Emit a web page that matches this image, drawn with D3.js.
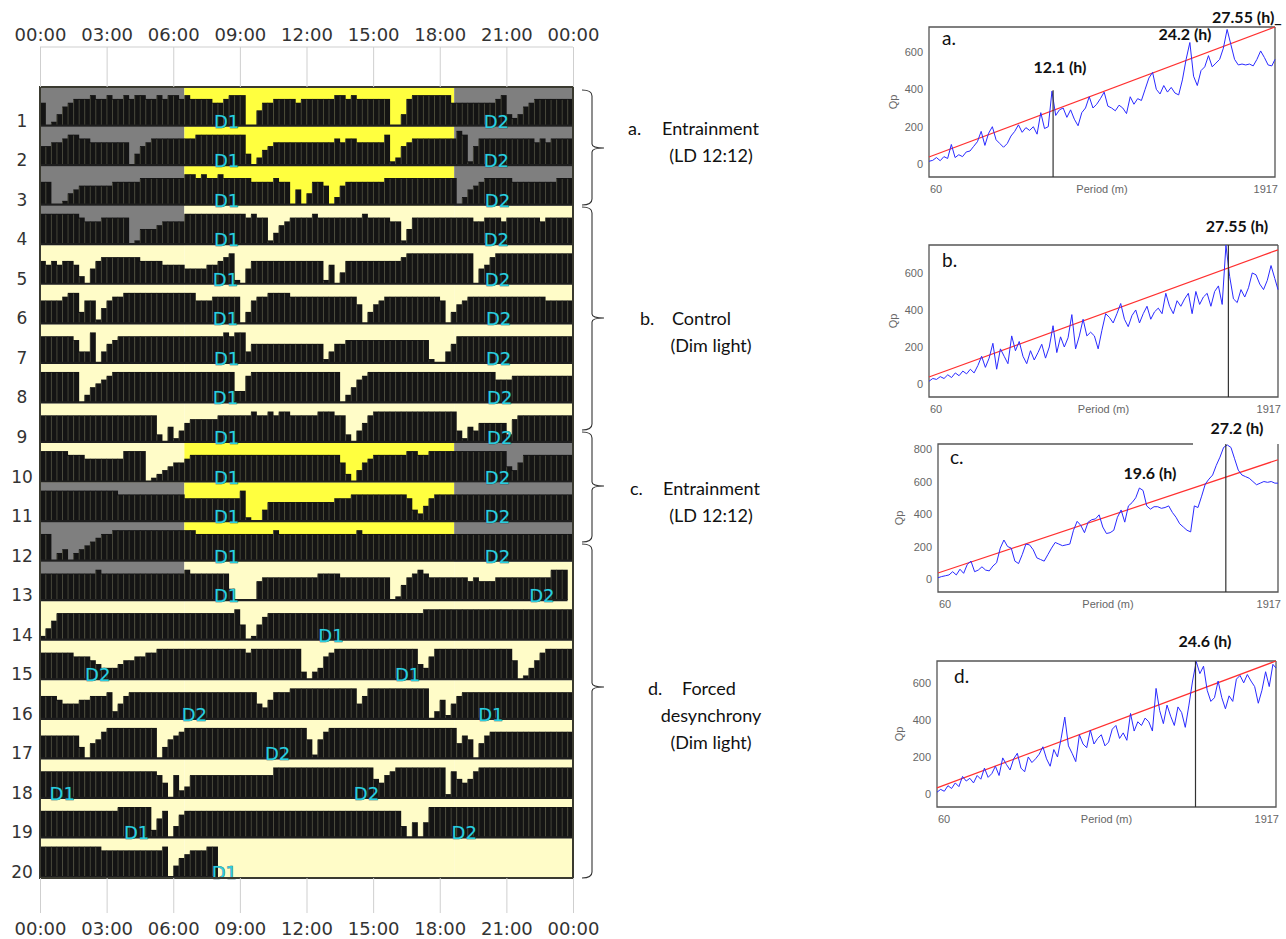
<!DOCTYPE html>
<html>
<head>
<meta charset="utf-8">
<script src="https://cdn.jsdelivr.net/npm/d3@7"></script>
<style>
  body { margin: 0; background: #fff; }
  svg { display: block; }
</style>
</head>
<body>
<svg id="fig" width="1286" height="939"></svg>
<script>
// ---------------- data ----------------
const tickHours = [0, 3, 6, 9, 12, 15, 18, 21, 24]
const tickLabels = ["00:00", "03:00", "06:00", "09:00", "12:00", "15:00", "18:00", "21:00", "00:00"]
const rowNames = ["1","2","3","4","5","6","7","8","9","10","11","12","13","14","15","16","17","18","19","20"]

const lightsOn = 6.5
const lightsOff = 18.65
const morningBg = ["dark","dark","dark","dark","dim","dim","dim","dim","dim","dim","dark","dark","dark","dim","dim","dim","dim","dim","dim","dim"]
const dayBg     = ["light","light","light","dim","dim","dim","dim","dim","dim","light","light","light","dim","dim","dim","dim","dim","dim","dim","dim"]
const eveningBg = ["dark","dark","dark","dim","dim","dim","dim","dim","dim","dark","dark","dark","dim","dim","dim","dim","dim","dim","dim","dim"]

// activity per 15 min bin (0-9, "." = no recording), one group of 4 per hour
const activity = [
  "6013 5677 7877 8778 7887 7878 8787 7776 6788 8004 6677 7767 7777 7887 8777 7770 0378 8888 8866 6666 6678 3235 6777 7777",
  "5566 7887 7666 6666 0356 7777 7777 8888 8888 8302 4566 6666 6666 6767 7666 6681 2567 7777 7779 8157 7777 7777 7676 7777",
  "6600 1345 5555 5666 6677 7777 7788 7877 8777 7766 6676 6040 3665 0256 6666 6677 7777 7777 7770 2456 7777 7666 6666 6777",
  "8888 8887 6667 7777 0144 4566 6688 8888 8888 8787 7135 6777 7877 7777 7787 7776 6147 7777 7777 7766 7776 7777 7767 7777",
  "6565 6652 0467 7777 7766 6655 5544 4455 6781 0466 6666 6666 6661 5036 6666 6666 6788 8888 8888 8804 5788 8888 8888 8888",
  "6666 7883 6614 6778 8888 8888 8888 6667 7777 0367 7888 8777 7777 7777 7503 5677 7777 7777 6035 6777 7777 7777 7776 6666",
  "7777 7763 3803 5677 7777 7777 7777 7777 7878 8355 5555 5555 5551 3556 6666 6666 6666 6610 0357 7777 7777 7777 7777 7777",
  "8888 8880 2456 7888 8888 8888 8888 8888 8883 3788 8888 8888 8888 8802 4678 8888 8888 8888 8888 8888 8866 6777 7777 7777",
  "7777 7777 7777 7777 7777 7204 1356 6666 7777 7787 7878 8777 7788 8772 0357 8888 8888 8888 8883 1435 5555 2677 7777 7777",
  "8888 8777 6666 6668 8880 1234 5567 7777 7777 7777 7777 7777 7777 7752 0356 7777 7788 7788 8888 8888 8888 4357 7777 7777",
  "8888 8888 8888 8877 7777 7777 7766 6666 6666 8100 3555 5555 5555 5666 7777 7777 7763 2467 7777 7777 7777 7777 7777 7777",
  "7702 3023 4567 7888 8888 8888 8888 7777 7777 7777 7787 7777 7777 7777 7877 7777 7777 7777 7777 7777 7777 7777 7777 7777",
  "7777 7777 7787 7777 7777 7777 7787 7777 7730 0005 6666 6666 6677 7766 6666 6660 1467 8766 6666 6565 5566 6666 6666 888.",
  "1357 7777 7777 7777 7777 7777 7777 7777 7778 4014 6777 7777 7777 7777 7777 7777 7777 7888 8888 8888 8888 8888 8888 8888",
  "7777 7766 6543 3345 5667 7888 8888 8888 8888 8788 8888 8882 0236 7888 8888 8888 8888 4368 8888 8888 8888 8501 3578 8888",
  "6665 4445 5666 7246 7777 7777 7777 7777 7777 7774 3577 7888 8888 8888 8468 8888 8888 8802 5146 7777 7777 7777 7777 7777",
  "6666 6663 0457 8888 8888 8035 6788 8888 8888 8888 8888 8888 5157 8888 8888 8888 8888 8888 8884 6504 6777 7777 7777 7777",
  "7777 7777 7777 7777 7777 7640 6236 6666 6666 6666 6688 8888 8888 8888 8888 5467 8888 8888 8175 4578 8888 8888 8888 8888",
  "7777 7777 7777 7788 8888 2570 3677 7777 7777 7777 7777 7777 7777 7777 7777 7777 7304 0488 8888 8888 8888 8888 8888 8888",
  "8888 8888 8887 7777 7777 7780 3567 7788 .... .... .... .... .... .... .... .... .... .... .... .... .... .... .... ...."
]

// [row, hour, label]
const dLabels = [
  [1, 8.4, "D1"], [1, 20.55, "D2"], [2, 8.4, "D1"], [2, 20.55, "D2"], [3, 8.4, "D1"], [3, 20.6, "D2"],
  [4, 8.4, "D1"], [4, 20.55, "D2"], [5, 8.35, "D1"], [5, 20.6, "D2"], [6, 8.35, "D1"], [6, 20.65, "D2"],
  [7, 8.4, "D1"], [7, 20.65, "D2"], [8, 8.35, "D1"], [8, 20.7, "D2"], [9, 8.4, "D1"], [9, 20.7, "D2"],
  [10, 8.4, "D1"], [10, 20.6, "D2"], [11, 8.4, "D1"], [11, 20.6, "D2"], [12, 8.4, "D1"], [12, 20.6, "D2"],
  [13, 8.4, "D1"], [13, 22.6, "D2"], [14, 13.1, "D1"], [15, 2.6, "D2"], [15, 16.55, "D1"],
  [16, 6.95, "D2"], [16, 20.3, "D1"], [17, 10.7, "D2"], [18, 1.0, "D1"], [18, 14.7, "D2"],
  [19, 4.35, "D1"], [19, 19.1, "D2"], [20, 8.3, "D1"]
]

const groupTags = ["a.", "b.", "c.", "d."]
const groupTitles = [["Entrainment", "(LD 12:12)"], ["Control", "(Dim light)"], ["Entrainment", "(LD 12:12)"], ["Forced", "desynchrony", "(Dim light)"]]

// periodograms: Qp every 20 min from 60 to 1917 min
const periodStart = 60
const periodStep = 20
const periodEnd = 1917
const qpA = [15,20,35,18,40,30,105,35,50,40, 65,70,95,120,175,100,165,200,130,110, 90,110,150,175,210,170,195,180,200,160,
  275,190,200,390,260,290,300,250,290,240, 205,275,300,360,300,320,350,385,310,300, 285,315,300,270,360,320,350,340,400,460,
  490,400,375,420,385,410,380,370,450,560, 650,470,420,500,520,580,520,540,560,620, 720,640,560,530,535,530,535,525,560,605,
  570,530,525,560]
const qpB = [15,30,25,40,30,50,35,60,45,70, 55,80,60,100,150,90,140,220,80,190, 150,110,260,180,230,150,110,180,130,170,
  215,140,200,315,170,255,200,250,375,190, 260,350,260,280,260,190,290,380,360,330, 380,435,350,310,370,400,330,380,420,350,
  390,410,380,490,420,380,450,420,460,490, 380,500,430,470,490,420,500,530,430,750, 580,460,440,510,470,520,600,590,540,510,
  560,640,570,510]
const qpC = [8,15,20,25,45,25,60,35,90,110, 45,55,75,55,50,80,100,190,240,200, 190,110,95,150,215,210,180,130,120,110,
  150,190,225,215,205,210,215,300,355,330, 285,350,365,370,395,320,280,285,300,380, 425,350,450,470,500,560,545,450,430,445,
  445,435,440,450,410,380,340,320,300,290, 450,440,510,585,615,640,700,750,810,825, 810,740,670,640,630,620,600,580,590,600,
  595,600,590,590]
const qpD = [10,25,15,45,30,60,40,95,70,85, 60,100,80,140,90,110,150,100,195,160, 130,190,220,140,120,200,170,190,215,255,
  190,150,240,200,300,415,260,220,175,320, 270,250,345,270,300,320,260,280,350,370, 300,330,290,435,340,390,370,410,390,340,
  570,450,380,480,420,370,470,440,360,480, 610,715,650,690,560,500,520,610,520,460, 530,500,620,640,600,645,610,580,490,560,
  660,580,700,680]
const qpSeries = [qpA, qpB, qpC, qpD]
const qpDomains = [[-69, 733], [-70, 751], [-80, 831], [-70, 718]]
const qpTicks = [[0, 200, 400, 600], [0, 200, 400, 600], [0, 200, 400, 600, 800], [0, 200, 400, 600]]
const redLineEnds = [[38, 733], [38, 725], [37, 734], [33, 718]]
const peakPeriods = [726, 1653, 1632, 1476]
const peakTops = [395, 751, 831, 718]
const peakNotes = [
  [["12.1 (h)", 1060, 73, "middle"], ["24.2 (h)", 1185, 40, "middle"], ["27.55 (h)_", 1212, 23, "start"]],
  [["27.55 (h)", 1237, 232, "middle"]],
  [["27.2 (h)", 1237, 434, "middle"], ["19.6 (h)", 1150, 479, "middle"]],
  [["24.6 (h)", 1205, 647, "middle"]]
]

// ---------------- actogram ----------------
const svg = d3.select("#fig")
const bgColor = { dark: "#7f7f7f", light: "#ffff3f", dim: "#fffcc8" }

const x = d3.scaleLinear().domain([0, 24]).range([40, 573])
const row = d3.scaleBand().domain(rowNames).range([87, 878])
const rowH = row.bandwidth()
const lvl = d3.scaleLinear().domain([0, 10]).range([0, rowH - 1.5])
const binW = x(0.25) - x(0)

const acto = svg.append("g")

rowNames.forEach(function (name, i) {
  const y0 = row(name)
  const parts = [[0, lightsOn, morningBg[i]], [lightsOn, lightsOff, dayBg[i]], [lightsOff, 24, eveningBg[i]]]
  acto.selectAll(null).data(parts).enter().append("rect")
    .attr("x", d => x(d[0])).attr("y", y0)
    .attr("width", d => x(d[1]) - x(d[0])).attr("height", rowH)
    .attr("fill", d => bgColor[d[2]])
})

rowNames.forEach(function (name, i) {
  const y0 = row(name)
  const base = y0 + rowH - 1
  const bins = activity[i].replace(/ /g, "").split("").map((c, k) => ({ h: k * 0.25, v: c }))
  const rec = bins.filter(b => b.v !== ".")
  const active = rec.filter(b => +b.v > 0)
  const g = acto.append("g")
  g.selectAll("rect").data(active).enter().append("rect")
    .attr("x", b => x(b.h)).attr("y", b => base - lvl(+b.v))
    .attr("width", binW + 0.3).attr("height", b => lvl(+b.v))
    .attr("fill", "#141414")
  // faint bar edges
  g.selectAll("line.edge").data(active).enter().append("line")
    .attr("class", "edge")
    .attr("x1", b => x(b.h) + 0.3).attr("x2", b => x(b.h) + 0.3)
    .attr("y1", b => base - lvl(+b.v) + 1).attr("y2", base)
    .attr("stroke", "#5a5a48").attr("stroke-width", 0.7)
  // baseline under the recorded part
  g.append("line")
    .attr("x1", x(rec[0].h)).attr("x2", x(rec[rec.length - 1].h + 0.25))
    .attr("y1", base).attr("y2", base)
    .attr("stroke", "#1e1e1e").attr("stroke-width", 2.2)
})

// D1 / D2 tags
acto.selectAll("text.dtag").data(dLabels).enter().append("text")
  .attr("class", "dtag")
  .attr("x", d => x(d[1])).attr("y", d => row(String(d[0])) + rowH + 1)
  .attr("text-anchor", "middle")
  .style("font-family", "DejaVu Sans").style("font-size", "18px")
  .style("fill", "#2acfe0").style("stroke", "#0e4650").style("stroke-width", 0.6)
  .style("paint-order", "stroke")
  .text(d => d[2])

// box
acto.append("rect").attr("x", 40).attr("y", 87).attr("width", 533).attr("height", 791)
  .attr("fill", "none").attr("stroke", "#3a3a30").attr("stroke-width", 2)

// row numbers
svg.selectAll("text.rowlab").data(rowNames).enter().append("text")
  .attr("class", "rowlab")
  .attr("x", 22).attr("y", d => row(d) + rowH)
  .attr("text-anchor", "middle")
  .style("font-family", "DejaVu Sans").style("font-size", "17px").style("fill", "#333")
  .text(d => d)

// hour axes
const axTop = svg.append("g").attr("transform", "translate(0,87)")
  .call(d3.axisTop(x).tickValues(tickHours).tickFormat((d, i) => tickLabels[i]).tickSize(40).tickSizeOuter(0).tickPadding(6))
const axBot = svg.append("g").attr("transform", "translate(0,878)")
  .call(d3.axisBottom(x).tickValues(tickHours).tickFormat((d, i) => tickLabels[i]).tickSize(35).tickSizeOuter(0).tickPadding(9))
;[axTop, axBot].forEach(function (a) {
  a.select(".domain").remove()
  a.selectAll(".tick line").attr("stroke", "#cfcfcf")
  a.selectAll(".tick text").style("font-family", "DejaVu Sans").style("font-size", "18px").style("fill", "#333")
})
svg.append("line").attr("x1", x(0)).attr("x2", x(24)).attr("y1", 47).attr("y2", 47)
  .attr("stroke", "#cfcfcf")

// ---------------- braces and group captions ----------------
const braces = [[90, 205, 148], [207, 430, 318], [432, 542, 486], [544, 878, 687]]
const captionPos = [[628, 662, 135], [640, 672, 325], [630, 663, 495], [648, 682, 695]]

braces.forEach(function (b, i) {
  const bx = 592
  svg.append("path")
    .attr("d", `M${bx - 10},${b[0]} Q${bx},${b[0]} ${bx},${b[0] + 6} V${b[2] - 4} Q${bx},${b[2]} ${bx + 12},${b[2]} ` +
      `Q${bx},${b[2]} ${bx},${b[2] + 4} V${b[1] - 6} Q${bx},${b[1]} ${bx - 10},${b[1]}`)
    .attr("fill", "none").attr("stroke", "#333").attr("stroke-width", 1.1)

  const p = captionPos[i]
  const t = svg.append("g").style("font-family", "Lato").style("font-size", "18px").style("fill", "#111")
  t.append("text").attr("x", p[0]).attr("y", p[2]).text(groupTags[i])
  t.append("text").attr("x", p[1]).attr("y", p[2]).text(groupTitles[i][0])
  groupTitles[i].slice(1).forEach(function (line, k) {
    t.append("text").attr("x", 711).attr("y", p[2] + 27 * (k + 1)).attr("text-anchor", "middle").text(line)
  })
})

// ---------------- periodograms ----------------
const panelBoxes = [[929, 1275, 27, 177], [929, 1278, 245, 397], [938, 1278, 444, 592], [937, 1276, 661, 807]]
const topBorderEnd = [1917, 1917, 1453, 1917]
const tagPos = [[942, 45], [942, 267], [950, 464], [954, 683]]
const qpLabelX = [897, 897, 903, 903]

qpSeries.forEach(function (series, i) {
  const bx = panelBoxes[i]
  const px = d3.scaleLinear().domain([periodStart, periodEnd]).range([bx[0], bx[1]])
  const py = d3.scaleLinear().domain(qpDomains[i]).range([bx[3], bx[2]])
  const g = svg.append("g")

  const pts = series.map((v, k) => [Math.min(periodStart + k * periodStep, periodEnd), v])

  // frame
  g.append("path")
    .attr("d", `M${px(topBorderEnd[i])},${bx[2]} H${bx[0]} V${bx[3]} H${bx[1]} V${bx[2]}` +
      (topBorderEnd[i] < periodEnd ? "" : ` H${px(topBorderEnd[i])}`))
    .attr("fill", "none").attr("stroke", "#555").attr("stroke-width", 1.3)

  // y axis
  const ay = g.append("g").attr("transform", `translate(${bx[0]},0)`)
    .call(d3.axisLeft(py).tickValues(qpTicks[i]).tickSize(0).tickPadding(6))
  ay.select(".domain").remove()
  ay.selectAll("text").style("font-family", "Liberation Sans").style("font-size", "11px").style("fill", "#666")

  // x labels
  const xl = g.append("g").style("font-family", "Liberation Sans").style("font-size", "11px").style("fill", "#666")
  xl.append("text").attr("x", bx[0] + 1).attr("y", bx[3] + 16).text(String(periodStart))
  xl.append("text").attr("x", (bx[0] + bx[1]) / 2).attr("y", bx[3] + 16).attr("text-anchor", "middle").text("Period (m)")
  xl.append("text").attr("x", bx[1] + 3).attr("y", bx[3] + 16).attr("text-anchor", "end").text(String(periodEnd))
  xl.append("text").attr("transform", `translate(${qpLabelX[i]},${(bx[2] + bx[3]) / 2}) rotate(-90)`)
    .attr("text-anchor", "middle").text("Qp")

  // significance line
  g.append("line")
    .attr("x1", px(periodStart)).attr("y1", py(redLineEnds[i][0]))
    .attr("x2", px(periodEnd)).attr("y2", py(redLineEnds[i][1]))
    .attr("stroke", "#ff3030").attr("stroke-width", 1.2)

  // Qp curve
  g.append("path").datum(pts)
    .attr("d", d3.line().x(d => px(d[0])).y(d => py(d[1])))
    .attr("fill", "none").attr("stroke", "#2a2aff").attr("stroke-width", 1)

  // peak marker
  g.append("line")
    .attr("x1", px(peakPeriods[i])).attr("x2", px(peakPeriods[i]))
    .attr("y1", py(Math.min(peakTops[i], qpDomains[i][1]))).attr("y2", bx[3])
    .attr("stroke", "#333").attr("stroke-width", 1.2)

  g.append("text").attr("x", tagPos[i][0]).attr("y", tagPos[i][1])
    .style("font-family", "Lato").style("font-size", "19px").style("fill", "#111")
    .text(groupTags[i])

  peakNotes[i].forEach(function (n) {
    g.append("text").attr("x", n[1]).attr("y", n[2]).attr("text-anchor", n[3])
      .style("font-family", "Lato").style("font-weight", "bold").style("font-size", "16px").style("fill", "#111")
      .text(n[0])
  })
})
</script>
</body>
</html>
